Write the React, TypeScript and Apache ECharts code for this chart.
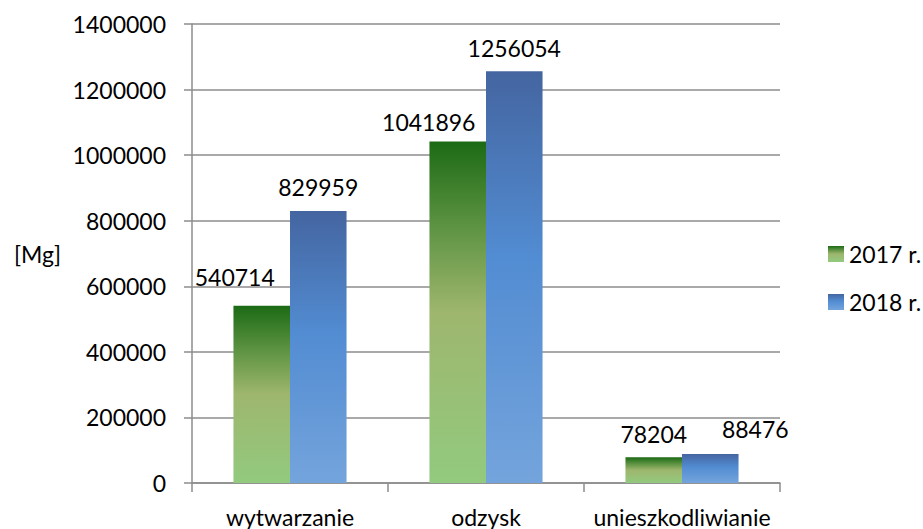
import React, { useEffect, useRef } from "react";
import * as echarts from "echarts";

const categories = ["wytwarzanie", "odzysk", "unieszkodliwianie"];
const values2017 = [540714, 1041896, 78204];
const values2018 = [829959, 1256054, 88476];
const seriesNames = ["2017 r.", "2018 r."];
const yTicks = { min: 0, max: 1400000, interval: 200000 };
const unitLabel = "[Mg]";

const labelOffsets2017 = [[-27, -12], [-29, -3], [0, -7]];
const labelOffsets2018 = [[0, -7], [0, -7], [45, -8]];

const FONT = "Lato";

export default function App() {
  const ref = useRef<HTMLDivElement>(null);
  useEffect(() => {
    if (!ref.current) return;
    const chart = echarts.init(ref.current, undefined, { renderer: "svg" });
    const green = new echarts.graphic.LinearGradient(0, 0, 0, 1, [
      { offset: 0, color: "#1c6a15" },
      { offset: 0.25, color: "#5d9342" },
      { offset: 0.5, color: "#9eb66e" },
      { offset: 1, color: "#92ca7e" },
    ]);
    const blue = new echarts.graphic.LinearGradient(0, 0, 0, 1, [
      { offset: 0, color: "#4465a0" },
      { offset: 0.45, color: "#528cd2" },
      { offset: 1, color: "#74a4dc" },
    ]);
    const labelStyle = {
      show: true,
      position: "top" as const,
      fontFamily: FONT,
      fontSize: 23,
      color: "#000",
    };
    chart.setOption({
      animation: false,
      backgroundColor: "#fff",
      grid: { left: 192, right: 143, top: 24, bottom: 46, containLabel: false },
      legend: {
        orient: "vertical",
        left: 823,
        top: 237,
        itemWidth: 16,
        itemHeight: 16,
        itemGap: 24,
        icon: "rect",
        textStyle: { fontFamily: FONT, fontSize: 23, color: "#000", lineHeight: 24 },
        data: seriesNames,
      },
      graphic: [
        {
          type: "text",
          left: 14,
          top: 242,
          style: { text: unitLabel, font: `23px ${FONT}`, fill: "#000" },
        },
      ],
      xAxis: {
        type: "category",
        data: categories,
        axisLine: { show: true, lineStyle: { color: "#8c8c8c", width: 1.5 } },
        axisTick: { show: true, length: 9, lineStyle: { color: "#8c8c8c", width: 1.5 } },
        axisLabel: { fontFamily: FONT, fontSize: 23, color: "#000", margin: 22, interval: 0 },
        splitLine: { show: false },
      },
      yAxis: {
        type: "value",
        min: yTicks.min,
        max: yTicks.max,
        interval: yTicks.interval,
        axisLine: { show: true, lineStyle: { color: "#8c8c8c", width: 1.5 } },
        axisTick: { show: true, length: 8, lineStyle: { color: "#8c8c8c", width: 1.5 } },
        axisLabel: {
          fontFamily: FONT,
          fontSize: 23,
          color: "#000",
          margin: 26,
          formatter: (v: number) => String(v),
        },
        splitLine: { show: true, lineStyle: { color: "#8c8c8c", width: 1.5 } },
      },
      series: [
        {
          name: seriesNames[0],
          type: "bar",
          barGap: "0%",
          barCategoryGap: "42.3%",
          itemStyle: { color: green },
          data: values2017.map((v, i) => ({
            value: v,
            label: { ...labelStyle, offset: labelOffsets2017[i] },
          })),
        },
        {
          name: seriesNames[1],
          type: "bar",
          barGap: "0%",
          barCategoryGap: "42.3%",
          itemStyle: { color: blue },
          data: values2018.map((v, i) => ({
            value: v,
            label: { ...labelStyle, offset: labelOffsets2018[i] },
          })),
        },
      ],
    });
    return () => chart.dispose();
  }, []);
  return (
    <div
      ref={ref}
      style={{ position: "fixed", left: 0, top: 0, width: 923, height: 529 }}
    />
  );
}
